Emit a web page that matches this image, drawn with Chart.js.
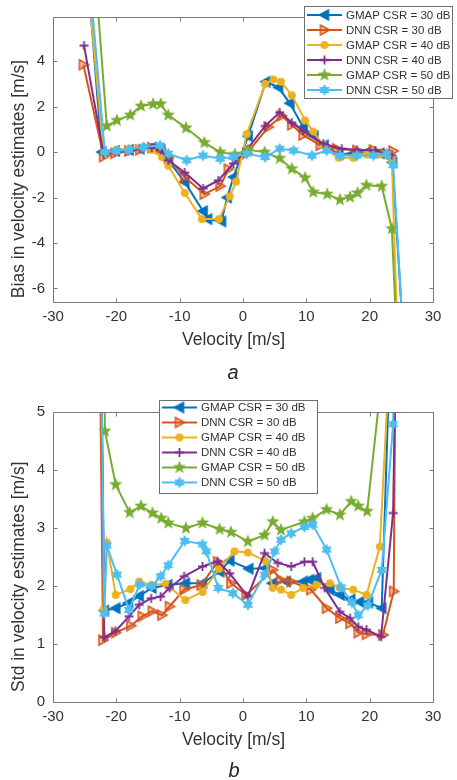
<!DOCTYPE html>
<html>
<head>
<meta charset="utf-8">
<script src="https://cdn.jsdelivr.net/npm/chart.js@4.4.1/dist/chart.umd.min.js"></script>
<style>
  html, body { margin: 0; padding: 0; background: #fff; }
  #wrap { position: relative; width: 457px; height: 780px; overflow: hidden; }
  #wrap canvas { position: absolute; left: 0; }
  #grafico-sesgo { top: 0; }
  #grafico-std { top: 390px; }
  .cap { position: absolute; transform: translateX(-50%); font: italic 20px/20px "Liberation Sans", Arial, sans-serif; color: #262626; }
</style>
</head>
<body>
<div id="wrap">
  <canvas id="grafico-sesgo" width="457" height="390"></canvas>
  <canvas id="grafico-std" width="457" height="390"></canvas>
  <div class="cap" style="left:233px; top:362px">a</div>
  <div class="cap" style="left:234px; top:760px">b</div>
</div>
<script>
// ---- datos ----
const seriesNames = ["GMAP CSR = 30 dB", "DNN CSR = 30 dB", "GMAP CSR = 40 dB",
  "DNN CSR = 40 dB", "GMAP CSR = 50 dB", "DNN CSR = 50 dB"];
const velocityTicks = [-30, -20, -10, 0, 10, 20, 30];
const biasTicks = [-6, -4, -2, 0, 2, 4];
const stdTicks = [0, 1, 2, 3, 4, 5];

// (a) sesgo
const biasGmap30V = [-25, -22.3, -20.2, -18, -16.3, -14.4, -13, -11.8, -9.2, -6.3, -5.6, -3.4, -2.5, -1.5, 0.8, 3.6, 5.6, 7.4, 9.5, 11.2, 12.8, 15.1, 17.4, 19.5, 21.6, 23.6, 25.5];
const biasGmap30 = [9.5, 0.0, 0.05, 0.1, 0.15, 0.2, 0.1, -0.35, -1.32, -2.6, -2.95, -3.05, -2.0, -1.1, 0.7, 3.1, 2.85, 2.15, 1.1, 0.7, 0.3, -0.1, -0.05, 0.0, -0.05, -0.45, -9];
const biasDnn30V = [-25.2, -22, -20.2, -18, -16.3, -14.4, -13, -11.8, -9.2, -6.1, -3.6, -2.3, -1, 0.6, 4.0, 6.1, 7.7, 9.5, 12.2, 14.8, 18.0, 20.6, 23.7];
const biasDnn30 = [3.85, -0.2, -0.05, 0.05, 0.1, 0.2, 0.15, -0.25, -1.1, -1.85, -1.5, -0.75, -0.3, -0.05, 1.1, 1.6, 1.2, 0.75, 0.3, 0.15, 0.07, 0.1, 0.05];
const biasGmap40V = [-25, -22, -20, -18, -16.3, -14.4, -12.8, -11.8, -9.2, -6.5, -3.8, -2.1, -1.1, 0.6, 3.5, 4.8, 6.0, 7.7, 9.8, 11.1, 12.7, 15.1, 17.4, 19.5, 21.6, 23.5, 24.5];
const biasGmap40 = [9, -0.1, 0.1, 0.15, 0.2, 0.1, -0.22, -0.6, -1.8, -2.95, -2.95, -1.95, -1.3, 0.8, 3.0, 3.2, 3.1, 2.5, 1.4, 0.9, 0.3, -0.25, -0.25, -0.1, -0.1, -0.35, -9];
const biasDnn40V = [-25.1, -22, -20.2, -18, -16.3, -14.4, -13, -11.8, -9.2, -6.3, -3.9, -1.5, 0.6, 3.5, 5.8, 7.7, 9.5, 12.7, 15.6, 18, 20.9, 23.5];
const biasDnn40 = [4.69, -0.1, 0.0, 0.05, 0.15, 0.2, 0.1, -0.36, -0.9, -1.6, -1.25, -0.5, 0.1, 1.15, 1.75, 1.3, 0.95, 0.37, 0.15, 0.1, 0.07, -0.14];
const biasGmap50V = [-25, -21.5, -19.9, -17.8, -16.1, -14.2, -13, -11.8, -9, -6.1, -3.6, -1.3, 0.8, 3.4, 5.8, 7.7, 9.8, 11.1, 13.3, 15.3, 16.9, 18.1, 19.5, 21.9, 23.5, 24.4];
const biasGmap50 = [14, 1.15, 1.4, 1.63, 2.03, 2.12, 2.12, 1.63, 1.07, 0.42, 0.0, -0.1, 0.1, 0.0, -0.27, -0.73, -1.13, -1.76, -1.85, -2.1, -1.98, -1.8, -1.46, -1.5, -3.37, -9];
const biasDnn50V = [-25, -21.8, -20, -18, -15.7, -13.1, -11.8, -8.9, -6.3, -3.6, -1.5, 0.6, 3.5, 5.8, 8.0, 10.9, 13.2, 15.3, 18.0, 20.6, 22.7, 23.7, 25.5];
const biasDnn50 = [10, 0.0, 0.05, 0.1, 0.22, 0.29, -0.07, -0.36, -0.15, -0.29, -0.22, -0.07, -0.22, 0.15, 0.07, -0.15, 0.07, -0.15, -0.15, -0.15, -0.07, -0.58, -9];

// (b) desvio estandar
const stdGmap30V = [-25, -21.9, -20.1, -18.1, -16.4, -14.4, -11.9, -9.1, -6.4, -3.7, -2.1, 0.9, 3.5, 4.6, 6.8, 9.5, 10.5, 11.6, 13.7, 15.3, 17.0, 18.4, 19.8, 21.9, 23.7];
const stdGmap30 = [30, 1.58, 1.62, 1.71, 1.83, 1.97, 2.02, 2.05, 2.05, 2.25, 2.44, 2.3, 2.31, 2.05, 2.08, 2.08, 2.11, 2.14, 1.94, 1.85, 1.77, 1.73, 1.72, 1.62, 7.7];
const stdDnn30V = [-25, -22.1, -20.1, -17.7, -15.9, -14.3, -12.8, -11.6, -9.3, -6.6, -4.0, -1.9, 0.5, 4.7, 6.0, 7.6, 10.7, 13.2, 15.3, 16.9, 18.2, 19.5, 22.1, 23.8, 25];
const stdDnn30 = [30, 1.07, 1.2, 1.32, 1.48, 1.57, 1.5, 1.65, 1.94, 2.02, 2.42, 2.05, 1.85, 2.28, 2.11, 2.08, 1.94, 1.62, 1.45, 1.36, 1.2, 1.17, 1.16, 1.91, 20];
const stdGmap40V = [-25, -22, -21.5, -20.1, -17.8, -16.4, -14.5, -12.2, -9.1, -6.4, -3.8, -1.35, 0.76, 3.6, 4.7, 6.0, 7.6, 9.5, 11.6, 13.7, 15.3, 17.4, 19.5, 21.6, 23.7];
const stdGmap40 = [30, 1.6, 2.75, 1.85, 1.95, 2.08, 2.02, 2.04, 1.76, 1.9, 2.3, 2.6, 2.58, 2.43, 1.97, 1.94, 1.85, 1.97, 2.02, 2.05, 1.97, 1.94, 1.85, 2.68, 7.1];
const stdDnn40V = [-25, -21.9, -20.1, -18.0, -16.4, -14.5, -13.0, -11.6, -9.3, -6.4, -4.0, -2.1, 0.76, 3.4, 5.5, 7.6, 9.7, 11.0, 12.9, 15.3, 16.9, 18.2, 19.5, 21.8, 23.7, 25];
const stdDnn40 = [30, 1.12, 1.23, 1.48, 1.68, 1.79, 1.82, 1.97, 2.17, 2.34, 2.43, 2.22, 1.82, 2.57, 2.4, 2.34, 2.42, 2.42, 1.97, 1.56, 1.45, 1.3, 1.25, 1.13, 3.26, 12];
const stdGmap50V = [-25, -21.8, -20.1, -17.9, -16.1, -14.3, -12.9, -11.8, -9.0, -6.4, -3.7, -1.9, 0.76, 3.4, 4.7, 6.0, 9.7, 11.0, 13.2, 15.3, 17.1, 18.2, 19.6, 23.5];
const stdGmap50 = [40, 4.67, 3.75, 3.27, 3.38, 3.26, 3.17, 3.09, 3.0, 3.09, 2.98, 2.93, 2.77, 2.88, 3.11, 2.97, 3.11, 3.17, 3.32, 3.23, 3.46, 3.38, 3.29, 7.2];
const stdDnn50V = [-25, -21.9, -21.5, -19.9, -18.0, -16.3, -14.4, -13.0, -11.8, -9.2, -6.4, -5.8, -3.9, -1.6, 0.76, 3.4, 5.0, 6.0, 7.6, 9.7, 11.0, 13.2, 15.5, 17.2, 18.2, 19.7, 21.9, 23.7, 25];
const stdDnn50 = [30, 1.53, 2.7, 2.2, 1.59, 2.03, 2.0, 2.17, 2.36, 2.78, 2.72, 2.6, 1.97, 1.88, 1.68, 2.2, 2.6, 2.8, 2.91, 3.02, 3.06, 2.63, 1.98, 1.72, 1.5, 1.67, 2.28, 4.79, 12];

// ---- estilos ----
const colores = ["#0072BD", "#D95319", "#EDB120", "#7E2F8E", "#77AC30", "#4DBEEE"];
const formas = ["triLeft", "triRight", "circle", "plus", "penta", "hexa"];
const tamanios = [10, 10, 8, 9, 14, 12];
const FUENTE = '"Liberation Sans", Arial, Helvetica, sans-serif';
const COLOR_TEXTO = "#333333";

// marcadores estilo matlab dibujados en un canvas chiquito
function crearMarcador(forma, color, tam) {
  const s = tam + 4;
  const c = document.createElement("canvas");
  c.width = s; c.height = s;
  const g = c.getContext("2d");
  const m = s / 2, r = tam / 2;
  g.fillStyle = color; g.strokeStyle = color; g.lineWidth = 1.5;
  g.beginPath();
  if (forma === "triLeft" || forma === "triRight") {
    const d = forma === "triLeft" ? -1 : 1;
    g.moveTo(m + d * r, m);
    g.lineTo(m - d * r * 0.8, m - r);
    g.lineTo(m - d * r * 0.8, m + r);
    g.closePath();
    if (forma === "triRight") { g.fillStyle = "rgba(217,83,25,0.35)"; }
    g.fill(); g.stroke();
  } else if (forma === "circle") {
    g.arc(m, m, r, 0, Math.PI * 2); g.fill();
  } else if (forma === "plus") {
    g.lineWidth = 1.8;
    g.moveTo(m - r, m); g.lineTo(m + r, m);
    g.moveTo(m, m - r); g.lineTo(m, m + r);
    g.stroke();
  } else {
    const puntas = forma === "penta" ? 5 : 6;
    const rin = forma === "penta" ? r * 0.42 : r * 0.58;
    for (let i = 0; i < puntas * 2; i++) {
      const ang = -Math.PI / 2 + (i * Math.PI) / puntas;
      const rr = i % 2 === 0 ? r : rin;
      const px = m + rr * Math.cos(ang), py = m + rr * Math.sin(ang);
      if (i === 0) g.moveTo(px, py); else g.lineTo(px, py);
    }
    g.closePath(); g.fill();
  }
  return c;
}
const marcadores = formas.map((f, i) => crearMarcador(f, colores[i], tamanios[i]));

function armarDatasets(series) {
  return series.map(([vs, ys], i) => ({
    label: seriesNames[i],
    data: vs.map((v, k) => ({ x: v, y: ys[k] })),
    showLine: true,
    borderColor: colores[i],
    backgroundColor: colores[i],
    borderWidth: 2,
    pointStyle: marcadores[i],
    pointRadius: tamanios[i] / 2,
    order: 5 - i, // el ultimo queda arriba como en matlab
  }));
}

// caja, ticks hacia adentro, titulos de ejes y leyenda
const ejesMatlab = {
  id: "ejesMatlab",
  afterDatasetsDraw(chart) {
    const { ctx, chartArea: a, scales: { x, y } } = chart;
    ctx.save();
    ctx.strokeStyle = "#7a7a7a";
    ctx.lineWidth = 1;
    ctx.beginPath();
    const L = Math.round(a.left) + 0.5, R = Math.round(a.right) + 0.5;
    const T = Math.round(a.top) + 0.5, B = Math.round(a.bottom) + 0.5;
    ctx.rect(L, T, R - L, B - T);
    x.ticks.forEach((t) => {
      const px = Math.round(x.getPixelForValue(t.value)) + 0.5;
      ctx.moveTo(px, B); ctx.lineTo(px, B - 4);
      ctx.moveTo(px, T); ctx.lineTo(px, T + 4);
    });
    y.ticks.forEach((t) => {
      const py = Math.round(y.getPixelForValue(t.value)) + 0.5;
      ctx.moveTo(L, py); ctx.lineTo(L + 4, py);
      ctx.moveTo(R, py); ctx.lineTo(R - 4, py);
    });
    ctx.stroke();
    ctx.restore();
  },
  afterDraw(chart, args, opts) {
    const { ctx, chartArea: a } = chart;
    ctx.save();
    ctx.fillStyle = COLOR_TEXTO;
    ctx.font = "17.5px " + FUENTE;
    ctx.textAlign = "center";
    ctx.textBaseline = "middle";
    ctx.fillText(opts.xTitle, (a.left + a.right) / 2 - 9.5, a.bottom + 38);
    ctx.translate(19, (a.top + a.bottom) / 2 + 19.5);
    ctx.rotate(-Math.PI / 2);
    ctx.fillText(opts.yTitle, 0, 0);
    ctx.restore();

    // leyenda
    const [bx, by, bw, bh] = opts.caja;
    ctx.save();
    ctx.fillStyle = "#fff";
    ctx.fillRect(bx, by, bw, bh);
    ctx.strokeStyle = "#6e6e6e";
    ctx.lineWidth = 1;
    ctx.strokeRect(bx + 0.5, by + 0.5, bw, bh);
    ctx.font = "11.5px " + FUENTE;
    ctx.textAlign = "left";
    ctx.textBaseline = "middle";
    seriesNames.forEach((nombre, i) => {
      const ry = opts.fila0 + i * opts.altoFila;
      const x0 = bx + 3, x1 = bx + 38;
      ctx.strokeStyle = colores[i];
      ctx.lineWidth = 2;
      ctx.beginPath(); ctx.moveTo(x0, ry); ctx.lineTo(x1, ry); ctx.stroke();
      const mk = marcadores[i];
      ctx.drawImage(mk, (x0 + x1) / 2 - mk.width / 2, ry - mk.height / 2);
      ctx.fillStyle = COLOR_TEXTO;
      ctx.fillText(nombre, bx + 42, ry + 0.5);
    });
    ctx.restore();
  },
};

function opcionesEje(min, max, ticks, extra) {
  return Object.assign({
    type: "linear",
    min, max,
    afterBuildTicks: (s) => { s.ticks = ticks.map((v) => ({ value: v })); },
    grid: { display: false, drawTicks: false },
    border: { display: false },
  }, extra);
}

function crearGrafico(id, series, yMin, yMax, yTicks, padTop, padBottom, yTitle, caja, fila0) {
  return new Chart(document.getElementById(id), {
    type: "scatter",
    data: { datasets: armarDatasets(series) },
    plugins: [ejesMatlab],
    options: {
      responsive: false,
      animation: false,
      layout: { padding: { left: 0, right: 24, top: padTop, bottom: padBottom } },
      plugins: {
        legend: { display: false },
        tooltip: { enabled: false },
        ejesMatlab: { xTitle: "Velocity [m/s]", yTitle, caja, fila0, altoFila: 15 },
      },
      scales: {
        x: opcionesEje(-30, 30, velocityTicks, {
          afterFit: (s) => { s.height = 52; },
          ticks: { color: COLOR_TEXTO, font: { family: FUENTE, size: 15 }, padding: 6, maxRotation: 0 },
        }),
        y: opcionesEje(yMin, yMax, yTicks, {
          afterFit: (s) => { s.width = 53; },
          ticks: { color: COLOR_TEXTO, font: { family: FUENTE, size: 15 }, padding: 8 },
        }),
      },
    },
  });
}

crearGrafico("grafico-sesgo", [
  [biasGmap30V, biasGmap30], [biasDnn30V, biasDnn30], [biasGmap40V, biasGmap40],
  [biasDnn40V, biasDnn40], [biasGmap50V, biasGmap50], [biasDnn50V, biasDnn50],
], -6.6, 5.95, biasTicks, 16, 36, "Bias in velocity estimates [m/s]", [304, 6, 148, 92], 15);

crearGrafico("grafico-std", [
  [stdGmap30V, stdGmap30], [stdDnn30V, stdDnn30], [stdGmap40V, stdGmap40],
  [stdDnn40V, stdDnn40], [stdGmap50V, stdGmap50], [stdDnn50V, stdDnn50],
], 0, 5, stdTicks, 22, 25.7, "Std in velocity estimates [m/s]", [159, 10, 158, 93], 17.5);
</script>
</body>
</html>
